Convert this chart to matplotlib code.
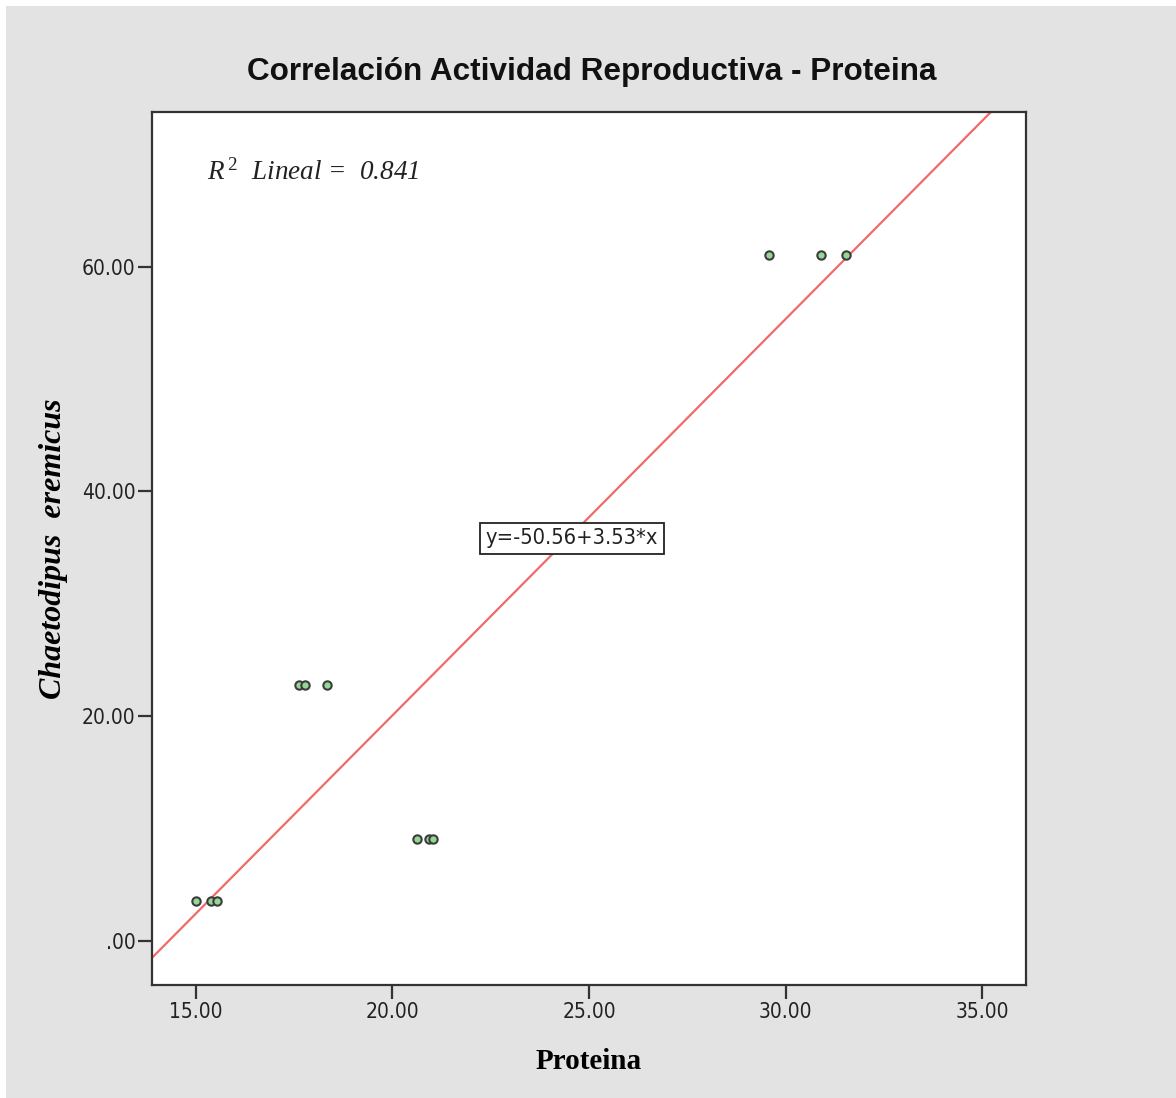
import matplotlib.pyplot as plt
from matplotlib.patches import Rectangle

# data
proteina = [15.01, 15.40, 15.53,
            17.63, 17.77, 18.33,
            20.62, 20.92, 21.03,
            29.58, 30.91, 31.53]
chaetodipus = [3.50, 3.50, 3.50,
               22.71, 22.71, 22.71,
               9.07, 9.07, 9.07,
               61.04, 61.04, 61.04]
intercept = -50.56
slope = 3.53
r2 = 0.841
x_ticks = [15, 20, 25, 30, 35]
x_tick_labels = ["15.00", "20.00", "25.00", "30.00", "35.00"]
y_ticks = [0, 20, 40, 60]
y_tick_labels = [".00", "20.00", "40.00", "60.00"]

plt.rcParams["mathtext.fontset"] = "custom"
plt.rcParams["mathtext.rm"] = "Liberation Serif"
plt.rcParams["mathtext.it"] = "Liberation Serif:italic"

fig = plt.figure(figsize=(11.76, 10.98), dpi=100, facecolor="white")
fig.patches.append(Rectangle((6 / 1176, 0), 1 - 6 / 1176, 1 - 6 / 1098,
                             transform=fig.transFigure, facecolor="#e3e3e3",
                             edgecolor="none", zorder=-1))

ax = fig.add_axes([152 / 1176, 1 - 985 / 1098, 874 / 1176, 873 / 1098])
ax.set_facecolor("white")
xlim = (13.89, 36.11)
ylim = (-3.95, 73.76)
ax.set_xlim(*xlim)
ax.set_ylim(*ylim)

# fit line across the whole frame
ax.plot(xlim, [intercept + slope * v for v in xlim], color="#f06a6a",
        linewidth=1.6, zorder=2)
ax.plot(proteina, chaetodipus, linestyle="none", marker="o", markersize=6,
        markerfacecolor="#95d895", markeredgecolor="#3c3c3c",
        markeredgewidth=1.5, zorder=3)

for s in ax.spines.values():
    s.set_color("#333333")
    s.set_linewidth(1.6)

ax.set_xticks(x_ticks)
ax.set_xticklabels(x_tick_labels)
ax.set_yticks(y_ticks)
ax.set_yticklabels(y_tick_labels)
ax.tick_params(direction="out", length=10, width=1.6, color="#333333",
               labelsize=15, pad=2)
for lab in ax.get_xticklabels() + ax.get_yticklabels():
    lab.set_fontfamily("DejaVu Sans")
    lab.set_fontstretch("condensed")
    lab.set_color("#222222")

ax.set_xlabel("Proteina", fontsize=21, fontweight="bold",
              fontfamily="Liberation Serif", labelpad=19)
ax.set_ylabel("Chaetodipus  eremicus", fontsize=23, fontweight="bold",
              fontstyle="italic", fontfamily="Liberation Serif", labelpad=10)

fig.text(592 / 1176, 1 - 72 / 1098, "Correlación Actividad Reproductiva - Proteina",
         ha="center", va="center", fontsize=22.7, fontweight="bold",
         fontfamily="Liberation Sans", color="#111111")

ax.text(0.063, 0.931, r"$R^{\,2}$  Lineal =  " + f"{r2:.3f}",
        transform=ax.transAxes, fontsize=19.5, fontstyle="italic",
        fontfamily="Liberation Serif", va="center", ha="left", color="#222222")

ax.text(24.57, 35.8, f"y={intercept:.2f}+{slope:.2f}*x", ha="center",
        va="center", fontsize=15.7, fontfamily="DejaVu Sans", fontstretch="condensed",
        color="#222222", zorder=4,
        bbox=dict(boxstyle="square,pad=0.25", facecolor="white",
                  edgecolor="#222222", linewidth=1.3))

fig.savefig("out.png", dpi=100, facecolor=fig.get_facecolor())
